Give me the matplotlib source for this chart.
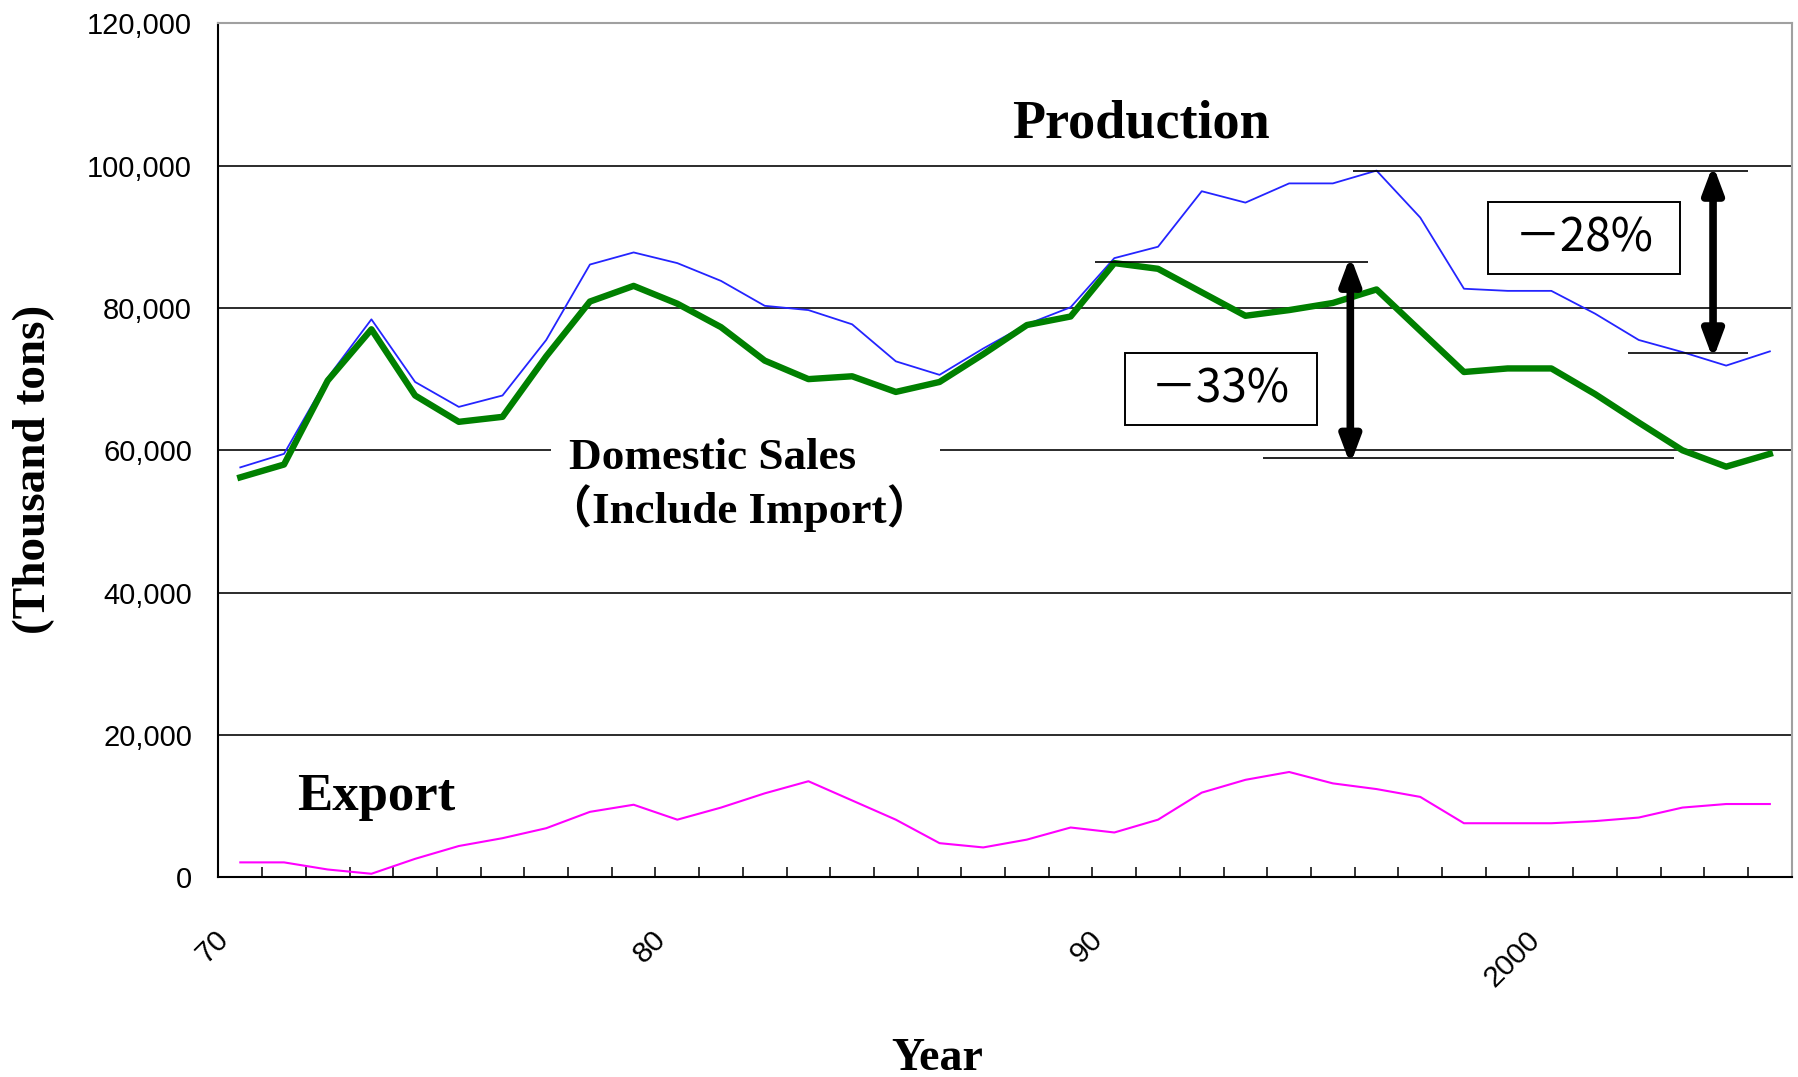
import numpy as np
import matplotlib.pyplot as plt
from matplotlib.patches import Rectangle

# tonnage by year (thousand tons)
years = np.arange(1970, 2006)

production = [57600, 59500, 70200, 78400, 69600, 66100, 67700, 75500, 86100, 87800,
              86300, 83800, 80300, 79700, 77700, 72500, 70600, 74300, 77700, 80100,
              87000, 88600, 96400, 94800, 97500, 97500, 99300, 92700, 82700, 82400,
              82400, 79200, 75500, 73800, 71900, 73900]

domestic = [56200, 58000, 69800, 77000, 67700, 64000, 64700, 73200, 80900, 83100,
            80600, 77300, 72600, 70000, 70400, 68200, 69600, 73500, 77600, 78800,
            86300, 85500, 82200, 78900, 79700, 80700, 82600, 76800, 71000, 71500,
            71500, 67900, 63900, 60000, 57700, 59500]

export = [2100, 2100, 1100, 500, 2600, 4400, 5500, 6900, 9200, 10200,
          8100, 9800, 11800, 13500, 10800, 8100, 4800, 4200, 5300, 7000,
          6300, 8100, 11900, 13700, 14800, 13200, 12400, 11300, 7600, 7600,
          7600, 7900, 8400, 9800, 10300, 10300]

yticks = np.arange(0, 120001, 20000)
label_years = [1970, 1980, 1990, 2000]
label_text = ['70', '80', '90', '2000']

serif = 'Liberation Serif'
sans = 'Liberation Sans'

fig = plt.figure(figsize=(17.98, 10.77), dpi=100)
ax = fig.add_axes([0.1215, 0.1854, 0.875, 0.7930])

ax.set_xlim(1969.5, 2005.5)
ax.set_ylim(0, 120000)

# horizontal grid (20k..100k), the 120k edge is the grey frame
for v in yticks[1:-1]:
    ax.axhline(v, color='#1a1a1a', lw=1.3, zorder=0.5)

ax.plot(years, production, color='#2424ff', lw=1.3, zorder=2)
ax.plot(years, domestic, color='#008000', lw=4.6, zorder=2.1)
ax.plot(years, export, color='#ff00ff', lw=1.5, zorder=2)

# spines
for s in ['left', 'bottom']:
    ax.spines[s].set_color('black')
    ax.spines[s].set_linewidth(1.5)
for s in ['top', 'right']:
    ax.spines[s].set_color('#a0a0a0')
    ax.spines[s].set_linewidth(1.5)

# y axis
ax.set_yticks(yticks)
ax.set_yticklabels([f'{v:,}' for v in yticks])
ax.tick_params(axis='y', length=0, pad=19, labelsize=21)
for lab in ax.get_yticklabels():
    lab.set_family(sans)

# x axis: ticks between the years, labels every decade
ax.set_xticks([])
ax.set_xticks(np.arange(1970.5, 2005, 1.0), minor=True)
ax.tick_params(axis='x', which='minor', direction='in', length=7, width=1.1, color='black')
for yr, txt in zip(label_years, label_text):
    ax.text(yr - 0.36, -0.068, txt, transform=ax.get_xaxis_transform(),
            rotation=45, rotation_mode='anchor', ha='right', va='center',
            fontsize=21.5, family=sans)

# series labels
ax.text(1990.6, 103900, 'Production', ha='center', va='baseline',
        fontsize=39, fontweight='bold', family=serif, zorder=3)
ax.text(1971.29, 9500, 'Export', ha='left', va='baseline',
        fontsize=38, fontweight='bold', family=serif, zorder=3)
ax.add_patch(Rectangle((1977.1, 56500), 8.9, 7000, fc='white', ec='none', zorder=1))
ax.text(1977.53, 57400, 'Domestic Sales', ha='left', va='baseline',
        fontsize=32.5, fontweight='bold', family=serif, zorder=3)
ax.text(1981.42, 49800, '（Include Import）', ha='center', va='baseline',
        fontsize=32.5, fontweight='bold', family=[serif, 'Noto Sans CJK JP'], zorder=3)

fig.text(937 / 1798, 1 - 1070 / 1077, 'Year', ha='center', va='baseline',
         fontsize=33, fontweight='bold', family=serif)
fig.text(34 / 1798, 1 - 469 / 1077, '(Thousand tons)', rotation=90,
         ha='center', va='center', fontsize=34, fontweight='bold', family=serif)

# change markers
ax.hlines(86400, 1989.55, 1995.8, color='black', lw=1.2, zorder=3)
ax.hlines(58900, 1993.4, 2002.8, color='black', lw=1.2, zorder=3)
ax.hlines(99200, 1995.45, 2004.5, color='black', lw=1.2, zorder=3)
ax.hlines(73700, 2001.75, 2004.5, color='black', lw=1.2, zorder=3)


def double_arrow(x, y_top, y_bot):
    # heads sit slightly inside the path ends, so stretch it a little
    ax.annotate('', xy=(x, y_bot - 900), xytext=(x, y_top + 900),
                arrowprops=dict(arrowstyle='<|-|>,head_length=0.8,head_width=0.3',
                                mutation_scale=20, lw=5.5, color='black',
                                shrinkA=0, shrinkB=0),
                zorder=4)


def change_box(x0, x1, y0, y1, txt):
    ax.add_patch(Rectangle((x0, y0), x1 - x0, y1 - y0, fc='white', ec='black',
                           lw=1.4, zorder=4))
    ax.text((x0 + x1) / 2, (y0 + y1) / 2, txt, ha='center', va='center',
            fontsize=33, family=['Noto Sans CJK JP', 'DejaVu Sans'], zorder=5)


double_arrow(1995.4, 86400, 58900)
double_arrow(2003.7, 99200, 73700)
change_box(1990.24, 1994.63, 63500, 73700, '－33%')
change_box(1998.56, 2002.95, 84700, 94900, '－28%')

fig.savefig('out.png', dpi=100)
